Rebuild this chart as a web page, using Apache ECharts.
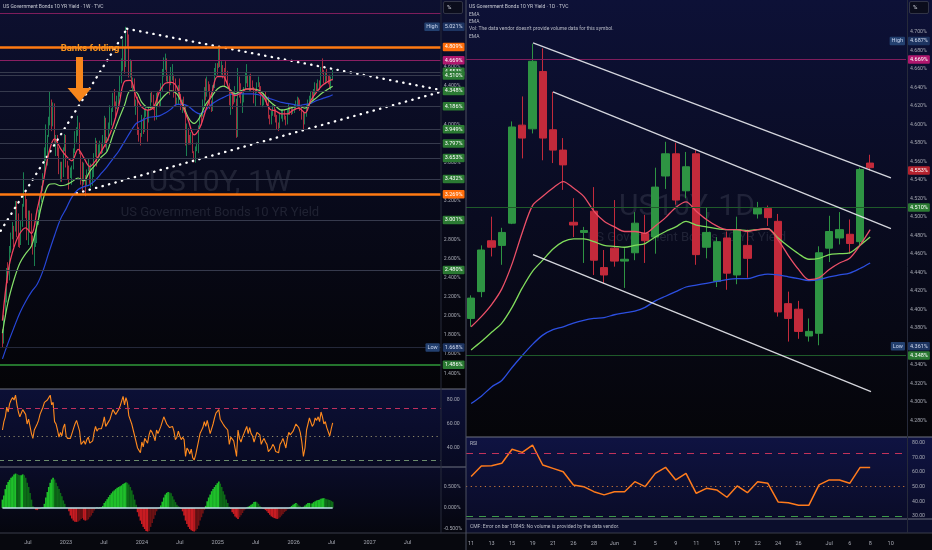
<!DOCTYPE html>
<html>
<head>
<meta charset="utf-8">
<script src="https://cdn.jsdelivr.net/npm/echarts@6/dist/echarts.min.js"></script>
<style>
html,body{margin:0;padding:0;background:#06070d;overflow:hidden;}
#chart{width:932px;height:550px;}
</style>
</head>
<body>
<div id="chart"></div>
<script>
// ================= LEFT PANEL : weekly US10Y =================
const weeklyStartDate = '2022-02-28';
const weeklyFirstOpen = 1.83;
const weeklyClose = [
1.73,2.00,2.15,2.48,2.38,2.71,2.83,2.90,2.89,3.13,
2.92,2.78,2.74,2.94,3.16,3.23,3.13,2.88,3.08,2.93,
2.75,2.65,2.83,2.85,2.98,3.04,3.19,3.32,3.45,3.69,
3.80,3.88,4.00,4.21,4.01,4.16,3.82,3.83,3.68,3.49,
3.58,3.48,3.75,3.87,
3.56,3.50,3.48,3.51,3.53,3.74,3.82,3.94,3.96,3.70,
3.39,3.38,3.47,3.39,3.52,3.57,3.42,3.44,3.46,3.67,
3.80,3.69,3.74,3.76,3.74,3.84,4.06,3.83,3.84,3.95,
4.04,4.15,4.25,4.24,4.18,4.26,4.33,4.43,4.57,4.78,
4.62,4.91,4.83,4.57,4.65,4.44,4.47,4.20,4.23,3.91,
3.90,3.88,
4.05,3.94,4.13,4.14,4.02,4.18,4.28,4.25,4.19,4.08,
4.31,4.22,4.20,4.39,4.50,4.62,4.67,4.50,4.50,4.42,
4.47,4.50,4.43,4.22,4.26,4.40,4.27,4.18,4.24,4.19,
3.79,3.94,3.89,3.80,3.91,3.71,3.65,3.73,3.75,3.98,
4.10,4.08,4.24,4.37,4.30,4.43,4.41,4.18,4.15,4.40,
4.52,4.62,4.60,
4.77,4.61,4.62,4.54,4.49,4.48,4.43,4.21,4.32,4.31,
4.25,4.25,4.00,4.49,4.33,4.24,4.31,4.38,4.44,4.51,
4.40,4.51,4.41,4.38,4.28,4.35,4.42,4.42,4.39,4.22,
4.28,4.32,4.26,4.23,4.08,4.06,4.13,4.18,4.12,4.03,
4.01,4.00,4.09,4.10,4.14,4.07,4.02,4.14,4.18,4.15,
4.13,4.17,
4.18,4.23,4.24,4.22,4.18,4.12,4.02,4.10,4.18,4.24,
4.26,4.31,4.28,4.34,4.40,4.36,4.44,4.39,4.60,4.56,
4.44,4.53,4.48,4.46,4.38,4.49,4.55
];
const weeklyHigh = [
1.86,2.01,2.25,2.50,2.56,2.73,2.87,2.98,2.94,3.20,
3.20,3.07,2.86,2.99,3.17,3.50,3.30,3.22,3.10,3.10,
3.07,2.84,2.87,2.90,3.00,3.11,3.26,3.36,3.49,3.76,
4.00,3.89,4.08,4.34,4.26,4.23,4.22,3.89,3.89,3.76,
3.61,3.61,3.76,3.90,
3.89,3.62,3.57,3.55,3.57,3.75,3.93,3.97,4.09,4.02,
3.71,3.61,3.60,3.47,3.53,3.64,3.57,3.59,3.53,3.70,
3.86,3.83,3.79,3.83,3.81,3.89,4.09,4.07,3.87,4.02,
4.20,4.17,4.33,4.37,4.24,4.30,4.35,4.51,4.69,4.89,
4.80,5.02,5.00,4.94,4.68,4.67,4.49,4.48,4.26,4.29,
3.97,3.91,
4.10,4.07,4.17,4.20,4.15,4.19,4.33,4.35,4.31,4.21,
4.33,4.35,4.26,4.43,4.58,4.70,4.74,4.69,4.52,4.52,
4.60,4.63,4.52,4.48,4.28,4.41,4.48,4.32,4.26,4.29,
4.20,4.01,3.96,3.89,3.92,3.92,3.72,3.77,3.81,3.99,
4.11,4.11,4.26,4.39,4.48,4.50,4.45,4.42,4.25,4.41,
4.59,4.64,4.64,
4.79,4.81,4.66,4.62,4.59,4.66,4.56,4.43,4.34,4.33,
4.33,4.40,4.27,4.59,4.50,4.43,4.32,4.39,4.54,4.63,
4.51,4.52,4.53,4.46,4.39,4.37,4.44,4.50,4.44,4.40,
4.29,4.33,4.34,4.29,4.29,4.10,4.14,4.20,4.20,4.16,
4.10,4.02,4.11,4.16,4.16,4.15,4.09,4.15,4.21,4.19,
4.17,4.19,
4.21,4.25,4.29,4.28,4.26,4.20,4.14,4.12,4.20,4.26,
4.30,4.34,4.35,4.37,4.44,4.43,4.47,4.46,4.60,4.69,
4.57,4.55,4.58,4.51,4.52,4.50,4.57
];
const weeklyLow = [
1.67,1.71,1.99,2.14,2.34,2.37,2.66,2.80,2.72,2.88,
2.82,2.72,2.71,2.74,2.93,3.14,3.02,2.79,2.74,2.87,
2.74,2.64,2.52,2.72,2.76,2.95,3.03,3.19,3.30,3.45,
3.62,3.57,3.87,3.99,3.93,3.98,3.81,3.67,3.67,3.48,
3.40,3.40,3.45,3.72,
3.55,3.43,3.32,3.44,3.37,3.53,3.70,3.81,3.88,3.69,
3.37,3.29,3.37,3.25,3.36,3.51,3.38,3.34,3.36,3.45,
3.66,3.56,3.64,3.66,3.69,3.70,3.80,3.76,3.72,3.83,
3.94,3.99,4.13,4.18,4.06,4.16,4.21,4.29,4.43,4.56,
4.53,4.60,4.81,4.49,4.49,4.38,4.36,4.19,4.10,3.89,
3.82,3.78,
3.87,3.90,3.92,4.08,3.82,4.02,4.15,4.23,4.15,4.04,
4.05,4.19,4.18,4.19,4.35,4.50,4.57,4.45,4.43,4.31,
4.41,4.46,4.28,4.19,4.20,4.21,4.26,4.15,4.12,4.16,
3.78,3.67,3.79,3.79,3.79,3.70,3.60,3.60,3.72,3.70,
3.96,3.99,4.08,4.18,4.25,4.29,4.34,4.16,4.13,4.14,
4.38,4.51,4.52,
4.59,4.60,4.52,4.48,4.40,4.45,4.42,4.20,4.10,4.16,
4.21,4.23,3.86,3.87,4.28,4.22,4.12,4.23,4.36,4.43,
4.39,4.35,4.35,4.37,4.22,4.19,4.33,4.39,4.33,4.20,
4.18,4.20,4.24,4.20,4.06,4.00,4.00,4.09,4.08,4.02,
3.95,3.93,3.96,4.06,4.03,4.05,3.99,4.00,4.10,4.10,
4.10,4.11,
4.12,4.15,4.18,4.16,4.14,4.05,3.95,4.00,4.08,4.14,
4.20,4.22,4.25,4.26,4.31,4.33,4.34,4.36,4.38,4.53,
4.43,4.42,4.45,4.42,4.37,4.36,4.46
];
const weeklyRsi = [
55,62,66,74,70,77,80,82,80,84,
76,70,66,69,72,73,68,60,64,58,
52,48,55,56,60,63,68,71,74,78,
79,80,82,84,76,78,62,60,55,49,
53,50,57,60,50,48,47,48,49,56,
60,63,62,54,43,42,46,43,47,49,
44,45,46,53,58,54,56,57,56,60,
66,58,58,62,64,68,72,71,68,70,
72,75,79,83,76,82,78,67,68,60,
60,50,50,40,38,36,45,41,48,48,
44,51,55,53,50,46,55,52,52,58,
62,66,67,60,60,57,58,58,54,47,
49,54,50,47,49,47,33,40,38,35,
39,32,30,34,35,46,52,51,57,62,
58,63,62,52,51,60,65,69,68,72,
64,64,60,58,57,55,43,49,49,46,
46,33,55,48,45,49,52,55,58,52,
57,52,50,45,49,53,53,51,43,46,
48,45,43,37,36,40,43,41,37,36,
36,43,45,48,44,40,48,53,51,50,
54,55,60,60,57,53,45,33,40,55,
60,65,64,58,60,65,63,66,62,70,
66,60,62,57,56,50,56,61
];
const weeklyHist = [
0.20,0.30,0.45,0.55,0.62,0.67,0.72,0.75,0.80,0.82,
0.81,0.79,0.78,0.78,0.80,0.78,0.72,0.60,0.50,0.36,
0.20,0.04,0.01,-0.04,-0.05,-0.03,-0.02,0.01,0.02,0.10,
0.25,0.38,0.50,0.60,0.68,0.72,0.68,0.60,0.52,0.45,
0.36,0.28,0.18,0.10,0.02,0.01,-0.08,-0.18,-0.25,-0.30,
-0.33,-0.33,-0.32,-0.30,-0.26,-0.24,-0.28,-0.30,-0.29,-0.27,
-0.22,-0.18,-0.12,-0.06,-0.02,0.01,-0.01,0.01,0.02,0.05,
0.12,0.16,0.21,0.26,0.31,0.35,0.39,0.42,0.45,0.48,
0.50,0.52,0.54,0.57,0.59,0.61,0.60,0.56,0.50,0.42,
0.32,0.20,0.08,-0.10,-0.20,-0.30,-0.38,-0.45,-0.50,-0.55,
-0.56,-0.55,-0.45,-0.36,-0.26,-0.17,-0.08,-0.03,0.01,0.06,
0.15,0.25,0.32,0.36,0.38,0.37,0.35,0.28,0.20,0.14,
0.08,0.04,0.02,-0.02,-0.08,-0.18,-0.30,-0.38,-0.45,-0.50,
-0.53,-0.55,-0.56,-0.54,-0.50,-0.42,-0.30,-0.22,-0.13,-0.05,
0.05,0.16,0.25,0.32,0.40,0.45,0.50,0.55,0.59,0.63,
0.58,0.50,0.40,0.32,0.20,0.12,0.03,-0.02,-0.10,-0.14,
-0.20,-0.23,-0.26,-0.22,-0.17,-0.12,-0.06,-0.03,0.01,0.03,
0.05,0.08,0.10,0.14,0.15,0.13,0.10,0.05,0.02,-0.01,
-0.02,-0.05,-0.08,-0.12,-0.16,-0.20,-0.22,-0.24,-0.25,-0.26,
-0.25,-0.22,-0.18,-0.14,-0.10,-0.07,-0.03,-0.01,0.02,0.05,
0.08,0.10,0.12,0.10,0.06,0.04,0.02,0.03,0.06,0.09,
0.12,0.12,0.10,0.11,0.14,0.16,0.18,0.19,0.20,0.22,
0.23,0.23,0.22,0.21,0.20,0.19,0.17,0.15
];
// EMA values read every 4th week (last value = last week)
const weeklyEmaStep = 4;
const weeklyEmaFast = [1.95,2.47,2.72,2.86,2.92,2.86,3.11,3.38,3.70,3.85,3.75,3.67,3.62,3.74,3.65,3.56,3.62,3.72,3.83,3.98,4.19,4.45,4.46,4.29,4.18,4.15,4.18,4.34,4.43,4.44,4.39,4.19,4.04,3.89,3.97,4.15,4.32,4.50,4.50,4.37,4.30,4.33,4.37,4.37,4.34,4.28,4.16,4.14,4.11,4.11,4.15,4.17,4.12,4.25,4.34,4.41,4.45,4.47];
const weeklyEmaMid  = [1.82,2.15,2.38,2.55,2.65,2.73,2.95,3.21,3.37,3.38,3.36,3.37,3.40,3.44,3.41,3.51,3.58,3.66,3.72,3.89,4.05,4.20,4.35,4.34,4.23,4.18,4.18,4.24,4.31,4.35,4.32,4.21,4.07,4.01,4.08,4.21,4.29,4.37,4.40,4.37,4.32,4.35,4.37,4.37,4.36,4.31,4.24,4.19,4.15,4.16,4.18,4.19,4.17,4.23,4.28,4.33,4.37,4.40];
const weeklyEmaSlow = [1.55,1.72,1.88,2.03,2.15,2.25,2.33,2.47,2.66,2.84,3.01,3.12,3.24,3.32,3.35,3.37,3.42,3.49,3.56,3.64,3.72,3.82,3.92,4.01,4.04,4.07,4.08,4.09,4.12,4.16,4.21,4.21,4.19,4.14,4.11,4.15,4.21,4.25,4.28,4.31,4.32,4.32,4.32,4.32,4.31,4.29,4.27,4.25,4.23,4.22,4.21,4.20,4.21,4.22,4.25,4.27,4.29,4.31];
const weeklyTimeLabels = ['2022','Jul','2023','Jul','2024','Jul','2025','Jul','2026','Jul','2027','Jul'];
const weeklyPriceTickLabels = ['4.600','4.400','4.000','3.600','3.200','2.800','2.600','2.400','2.200','2.000','1.800','1.600','1.400'];
const weeklyRsiTickLabels = ['40.00','60.00','80.00'];
const weeklyHistTickLabels = ['-0.500','0.000','0.500'];
const weeklyHighValue = 5.021, weeklyLowValue = 1.668;
const weeklyOrangeLevels = [4.809, 3.269];
const weeklyMagentaTagLevels = [4.669];
const weeklyMagentaLineLevels = [5.164];
const weeklyGreenTagLevels = [4.553, 4.510, 4.348, 4.186, 3.949, 3.797, 3.653, 3.432, 3.001, 2.480];
const weeklyGreenLineLevels = [1.486];
// trend lines: [months since Jan 2022, yield]
const weeklyTrendRise = [[0, 2.71], [21.65, 5.00]];
const weeklyTrendFall = [[21.65, 5.00], [71.24, 4.36]];
const weeklyTrendSupport = [[13.69, 3.28], [71.24, 4.34]];

// ================= RIGHT PANEL : daily US10Y =================
const dailyDates = ['2026-05-11','2026-05-12','2026-05-13','2026-05-14','2026-05-15','2026-05-18','2026-05-19','2026-05-20','2026-05-21','2026-05-22','2026-05-26','2026-05-27','2026-05-28','2026-05-29','2026-06-01','2026-06-02','2026-06-03','2026-06-04','2026-06-05','2026-06-08','2026-06-09','2026-06-10','2026-06-11','2026-06-12','2026-06-15','2026-06-16','2026-06-17','2026-06-18','2026-06-22','2026-06-23','2026-06-24','2026-06-25','2026-06-26','2026-06-29','2026-06-30','2026-07-01','2026-07-02','2026-07-06','2026-07-07','2026-07-08','2026-07-09','2026-07-10','2026-07-13'];
const dailyAxisLabels = ['11','','13','','15','','19','','21','','26','','28','','Jun','','3','','5','','9','','11','','15','','17','','22','','24','','26','','','Jul','','6','','8','','10',''];
const dailyOpen  = [4.390,4.419,4.474,4.469,4.493,4.599,4.595,4.657,4.594,4.572,4.494,4.483,4.506,4.445,4.466,4.452,4.461,4.482,4.478,4.544,4.568,4.528,4.568,4.467,4.430,4.477,4.437,4.469,4.503,4.509,4.495,4.406,4.400,4.371,4.374,4.466,4.477,4.481,4.473,4.558];
const dailyClose = [4.412,4.464,4.467,4.483,4.597,4.585,4.668,4.585,4.572,4.556,4.491,4.485,4.453,4.437,4.452,4.454,4.493,4.474,4.532,4.568,4.518,4.554,4.459,4.483,4.473,4.439,4.486,4.455,4.509,4.499,4.397,4.390,4.376,4.376,4.461,4.484,4.486,4.471,4.551,4.553];
const dailyLow   = [4.381,4.413,4.457,4.448,4.492,4.563,4.590,4.561,4.558,4.529,4.478,4.450,4.437,4.428,4.446,4.423,4.453,4.450,4.460,4.530,4.513,4.520,4.448,4.455,4.424,4.421,4.427,4.434,4.498,4.490,4.392,4.365,4.368,4.365,4.361,4.451,4.470,4.460,4.469,4.550];
const dailyHigh  = [4.415,4.469,4.500,4.488,4.603,4.630,4.687,4.682,4.635,4.585,4.520,4.489,4.532,4.464,4.518,4.466,4.505,4.502,4.553,4.581,4.580,4.570,4.572,4.510,4.478,4.484,4.500,4.486,4.516,4.512,4.503,4.419,4.409,4.390,4.468,4.501,4.505,4.497,4.553,4.567];
const dailyEmaFast = [4.381,4.392,4.405,4.422,4.449,4.483,4.512,4.522,4.531,4.538,4.531,4.522,4.506,4.495,4.489,4.484,4.484,4.482,4.490,4.499,4.510,4.516,4.506,4.497,4.490,4.486,4.486,4.484,4.486,4.487,4.475,4.458,4.443,4.432,4.434,4.443,4.450,4.455,4.469,4.486];
const dailyEmaMid  = [4.356,4.365,4.375,4.385,4.402,4.423,4.441,4.453,4.465,4.473,4.476,4.476,4.473,4.469,4.468,4.467,4.469,4.471,4.478,4.484,4.489,4.495,4.491,4.489,4.487,4.486,4.486,4.485,4.486,4.487,4.477,4.468,4.460,4.454,4.455,4.459,4.460,4.461,4.469,4.478];
const dailyEmaSlow = [4.298,4.306,4.316,4.323,4.337,4.350,4.362,4.372,4.378,4.381,4.385,4.388,4.390,4.391,4.394,4.396,4.398,4.402,4.409,4.414,4.419,4.424,4.426,4.428,4.430,4.432,4.433,4.433,4.436,4.438,4.437,4.435,4.433,4.431,4.432,4.435,4.437,4.439,4.444,4.450];
const dailyRsi = [57,64.1,64.3,66.0,75.5,73.4,78.4,64.8,62.5,60.2,51.2,50.0,46.6,44.4,46.6,46.6,53.4,50.0,59.1,63.2,54.6,59.1,45.5,48.9,47.8,42.8,50.5,45.9,53.4,52.3,39.6,39.1,37.3,37.3,51.2,54.6,54.6,52.3,63.0,63.0];
const dailyPriceTickLabels = ['4.700','4.680','4.660','4.640','4.620','4.600','4.580','4.560','4.540','4.520','4.500','4.480','4.460','4.440','4.420','4.400','4.380','4.340','4.320','4.300','4.280'];
const dailyRsiTickLabels = ['30.00','40.00','50.00','60.00','70.00','80.00'];
const dailyHighValue = 4.687, dailyLowValue = 4.361, dailyLastValue = 4.553;
const dailyMagentaLevels = [4.669];
const dailyGreenLevels = [4.510, 4.348];
// channel lines: [trading-day index, yield]
const dailyChannelTop = [[6.05, 4.688], [41.03, 4.542]];
const dailyChannelMid = [[8.0, 4.635], [41.03, 4.487]];
const dailyChannelBottom = [[6.05, 4.459], [39.08, 4.311]];
const rsiBands = [73, 50, 30];

// ================= helpers =================
const FONT = 'Roboto, "Noto Sans", "DejaVu Sans", sans-serif';
const AXIS_TEXT = '#a6a9b3';
function dayMs(s){ const p = s.split('-').map(Number); return Date.UTC(p[0], p[1]-1, p[2]); }
function monthCoord(t){
  const d = new Date(t); const y = d.getUTCFullYear(), mo = d.getUTCMonth(), day = d.getUTCDate();
  const dim = new Date(Date.UTC(y, mo+1, 0)).getUTCDate();
  return (y-2022)*12 + mo + (day-1)/dim;
}
const t0 = dayMs(weeklyStartDate);
const weeklyM = weeklyClose.map((_, i) => monthCoord(t0 + i*7*86400000));
const weeklyCandles = weeklyClose.map((c, i) => [weeklyM[i], i === 0 ? weeklyFirstOpen : weeklyClose[i-1], c, weeklyLow[i], weeklyHigh[i]]);
const emaIdx = weeklyEmaFast.map((_, k) => Math.min(k*weeklyEmaStep, weeklyClose.length-1));
const emaPts = arr => arr.map((v, k) => [weeklyM[emaIdx[k]], v]);
const histData = weeklyHist.map((v, i) => {
  const prev = i ? weeklyHist[i-1] : v;
  let c;
  if (v >= 0) c = v >= prev ? '#1fc02a' : '#0d6a17';
  else c = v <= prev ? '#c81c22' : '#6e1214';
  return { value: [weeklyM[i], v], itemStyle: { color: c } };
});

const NOLINE = { color: 'rgba(0,0,0,0)', width: 0.5, type: 'solid' };
function tag(value, text, bg, line, fg){
  return { yAxis: value, lineStyle: line || NOLINE,
    label: { show: true, position: 'end', distance: 2, formatter: text, backgroundColor: bg, color: fg || '#ffffff',
      fontSize: 5.5, fontFamily: FONT, padding: [1.5, 2, 1, 2], borderRadius: 1 } };
}
function insideTag(value, text, bg){
  return { yAxis: value, lineStyle: NOLINE,
    label: { show: true, position: 'insideEnd', distance: 1, formatter: text, backgroundColor: bg, color: '#c9d4ee',
      fontSize: 5.5, fontFamily: FONT, padding: [1.5, 2, 1, 2], borderRadius: 1 } };
}
function plainLine(value, line){ return { yAxis: value, lineStyle: line, label: { show: false } }; }
const GRAYLINE = { color: '#363a4d', width: 1, type: 'solid' };
const pct = v => v.toFixed(3) + '%';

// left marklines
const leftMarks = [];
weeklyGreenTagLevels.forEach(v => leftMarks.push(tag(v, pct(v), '#2b7a33', GRAYLINE)));
weeklyGreenLineLevels.forEach(v => leftMarks.push(tag(v, pct(v), '#2b7a33', { color: '#2f9a3a', width: 1.6, type: 'solid' })));
leftMarks.push(tag(weeklyLowValue, pct(weeklyLowValue), '#1d3461', { color: '#24283a', width: 1, type: 'solid' }, '#d4dcf0'));
leftMarks.push(insideTag(weeklyLowValue, 'Low', '#23406f'));
weeklyMagentaLineLevels.forEach(v => leftMarks.push(plainLine(v, { color: '#7e1d5c', width: 1, type: 'solid' })));
weeklyMagentaTagLevels.forEach(v => leftMarks.push(tag(v, pct(v), '#b0176e', { color: '#8a1f62', width: 1, type: 'solid' })));
leftMarks.push(tag(weeklyHighValue, pct(weeklyHighValue), '#1d3461', null, '#d4dcf0'));
leftMarks.push(insideTag(weeklyHighValue, 'High', '#23406f'));
weeklyOrangeLevels.forEach(v => leftMarks.push(tag(v, pct(v), '#ff6d0a', { color: '#ff7a12', width: 2.5, type: 'solid' })));

// right marklines
const rightMarks = [];
dailyGreenLevels.forEach(v => rightMarks.push(tag(v, pct(v), '#2b7a33', { color: '#1f5a2a', width: 1, type: 'solid' })));
dailyMagentaLevels.forEach(v => rightMarks.push(tag(v, pct(v), '#b0176e', { color: '#7e1d5c', width: 1, type: 'solid' })));
rightMarks.push(tag(dailyLastValue, pct(dailyLastValue), '#b5222e', null));
rightMarks.push(tag(dailyHighValue, pct(dailyHighValue), '#1d3461', null, '#d4dcf0'));
rightMarks.push(insideTag(dailyHighValue, 'High', '#23406f'));
rightMarks.push(tag(dailyLowValue, pct(dailyLowValue), '#1d3461', null, '#d4dcf0'));
rightMarks.push(insideTag(dailyLowValue, 'Low', '#23406f'));

function bandMarks(colors, dash){
  return { symbol: 'none', silent: true, animation: false, label: { show: false },
    data: rsiBands.map((v, i) => ({ yAxis: v, lineStyle: { color: colors[i], width: 1, type: i === 1 ? [1.2, 3.5] : dash } })) };
}

const grad = (a, b) => new echarts.graphic.LinearGradient(0, 0, 0, 1, [{ offset: 0, color: a }, { offset: 1, color: b }]);
const hidden = { show: false };
const noAxisDeco = { axisLine: hidden, axisTick: hidden, splitLine: hidden };
const LX = -9.98, LW = 450.7, MMAX = 71.24;

function rect(x, y, w, h, fill){ return { type: 'rect', z: -20, silent: true, shape: { x, y, width: w, height: h }, style: { fill } }; }
function hline(x1, x2, y, color){ return { type: 'line', z: 50, silent: true, shape: { x1, y1: y, x2, y2: y }, style: { stroke: color, lineWidth: 1 } }; }
function vline(x, y1, y2, color){ return { type: 'line', z: 50, silent: true, shape: { x1: x, y1, x2: x, y2 }, style: { stroke: color, lineWidth: 1 } }; }
function txt(x, y, text, font, fill, align, z){ return { type: 'text', z: z == null ? 60 : z, silent: true,
  style: { x, y, text, font, fill, align: align || 'left', verticalAlign: 'middle', textAlign: align || 'left', textVerticalAlign: 'middle' } }; }

const option = {
  animation: false,
  backgroundColor: '#06070d',
  textStyle: { fontFamily: FONT },
  grid: [
    { left: LX, top: -9.56, width: LW, height: 401.94, containLabel: false, outerBoundsMode: 'none' },
    { left: LX, top: 388, width: LW, height: 84, containLabel: false, outerBoundsMode: 'none' },
    { left: LX, top: 466, width: LW, height: 84, containLabel: false, outerBoundsMode: 'none' },
    { left: LX, top: 520, width: LW, height: 13, containLabel: false, outerBoundsMode: 'none' },
    { left: 466, top: -5.3, width: 440, height: 444, containLabel: false, outerBoundsMode: 'none' },
    { left: 466, top: 428, width: 440, height: 102.7, containLabel: false, outerBoundsMode: 'none' }
  ],
  xAxis: [
    { type: 'value', gridIndex: 0, min: 0, max: MMAX, show: false },
    { type: 'value', gridIndex: 1, min: 0, max: MMAX, show: false },
    { type: 'value', gridIndex: 2, min: 0, max: MMAX, show: false },
    { type: 'value', gridIndex: 3, min: 0, max: MMAX, interval: 6, ...noAxisDeco,
      axisLabel: { color: AXIS_TEXT, fontSize: 5.5, margin: 7, hideOverlap: false, showMinLabel: true, showMaxLabel: true,
        formatter: v => { const r = Math.round(v); if (Math.abs(v - r) > 1e-6 || r % 6) return ''; return weeklyTimeLabels[r/6] || ''; } } },
    { type: 'category', gridIndex: 4, data: dailyDates, boundaryGap: true, show: false },
    { type: 'category', gridIndex: 5, data: dailyDates, boundaryGap: true, ...noAxisDeco,
      axisLabel: { color: AXIS_TEXT, fontSize: 5.5, margin: 10, interval: 0, hideOverlap: false, formatter: (v, i) => dailyAxisLabels[i] || '' } },
    { type: 'value', gridIndex: 4, min: -0.5, max: dailyDates.length - 0.5, show: false }
  ],
  yAxis: [
    { type: 'value', gridIndex: 0, position: 'right', min: 1.2, max: 5.4, interval: 0.2, ...noAxisDeco,
      axisLabel: { color: AXIS_TEXT, fontSize: 5.2, margin: 3, hideOverlap: false, showMinLabel: true, showMaxLabel: true,
        formatter: v => weeklyPriceTickLabels.includes(v.toFixed(3)) ? v.toFixed(3) + '%' : '' } },
    { type: 'value', gridIndex: 1, position: 'right', min: 20, max: 90, interval: 10, ...noAxisDeco,
      axisLabel: { color: AXIS_TEXT, fontSize: 5.2, margin: 6, hideOverlap: false,
        formatter: v => weeklyRsiTickLabels.includes(v.toFixed(2)) ? v.toFixed(2) : '' } },
    { type: 'value', gridIndex: 2, position: 'right', min: -1, max: 1, interval: 0.5, ...noAxisDeco,
      axisLabel: { color: AXIS_TEXT, fontSize: 5.2, margin: 3, hideOverlap: false,
        formatter: v => weeklyHistTickLabels.includes(v.toFixed(3)) ? v.toFixed(3) + '%' : '' } },
    { type: 'value', gridIndex: 3, show: false },
    { type: 'value', gridIndex: 4, position: 'right', min: 4.26, max: 4.74, interval: 0.02, ...noAxisDeco,
      axisLabel: { color: AXIS_TEXT, fontSize: 5.2, margin: 4, hideOverlap: false, showMinLabel: true, showMaxLabel: true,
        formatter: v => dailyPriceTickLabels.includes(v.toFixed(3)) ? v.toFixed(3) + '%' : '' } },
    { type: 'value', gridIndex: 5, position: 'right', min: 20, max: 90, interval: 10, ...noAxisDeco,
      axisLabel: { color: AXIS_TEXT, fontSize: 5.2, margin: 6, hideOverlap: false,
        formatter: v => dailyRsiTickLabels.includes(v.toFixed(2)) ? v.toFixed(2) : '' } }
  ],
  series: [
    // ---------- left weekly ----------
    { type: 'line', xAxisIndex: 0, yAxisIndex: 0, data: weeklyTrendRise, symbol: 'none', silent: true, z: 3,
      lineStyle: { color: '#ffffff', width: 2.3, type: [0.4, 6.3], cap: 'round' } },
    { type: 'line', xAxisIndex: 0, yAxisIndex: 0, data: weeklyTrendFall, symbol: 'none', silent: true, z: 3,
      lineStyle: { color: '#ffffff', width: 2.3, type: [0.4, 6.3], cap: 'round' } },
    { type: 'line', xAxisIndex: 0, yAxisIndex: 0, data: weeklyTrendSupport, symbol: 'none', silent: true, z: 3,
      lineStyle: { color: '#ffffff', width: 2.3, type: [0.4, 6.3], cap: 'round' } },
    { type: 'candlestick', xAxisIndex: 0, yAxisIndex: 0, data: weeklyCandles,
      dimensions: ['m', 'open', 'close', 'low', 'high'], encode: { x: 'm', y: ['open', 'close', 'low', 'high'] },
      barWidth: 1.1, silent: true, z: 2,
      itemStyle: { color: '#1f9d5e', color0: '#d03545', borderColor: '#1f9d5e', borderColor0: '#d03545', borderWidth: 0.8 },
      markLine: { symbol: 'none', silent: true, animation: false, data: leftMarks } },
    { type: 'line', xAxisIndex: 0, yAxisIndex: 0, data: emaPts(weeklyEmaSlow), symbol: 'none', smooth: 0.35, silent: true, z: 4,
      lineStyle: { color: '#2747d8', width: 1.2 } },
    { type: 'line', xAxisIndex: 0, yAxisIndex: 0, data: emaPts(weeklyEmaMid), symbol: 'none', smooth: 0.35, silent: true, z: 4,
      lineStyle: { color: '#86e06a', width: 1.2 } },
    { type: 'line', xAxisIndex: 0, yAxisIndex: 0, data: emaPts(weeklyEmaFast), symbol: 'none', smooth: 0.35, silent: true, z: 4,
      lineStyle: { color: '#f4435f', width: 1.3 } },
    { type: 'line', xAxisIndex: 1, yAxisIndex: 1, data: weeklyM.map((m, i) => [m, weeklyRsi[i]]), symbol: 'none', silent: true,
      lineStyle: { color: '#ff8a1e', width: 1.1 }, markLine: bandMarks(['#c0305e', '#8f8a6a', '#6c8c6c'], [5, 4]) },
    { type: 'bar', xAxisIndex: 2, yAxisIndex: 2, data: histData, barWidth: 1.7, silent: true },
    { type: 'line', xAxisIndex: 2, yAxisIndex: 2, data: [[weeklyM[0], 0], [weeklyM[weeklyM.length-1], 0]], symbol: 'none', silent: true, z: 4,
      lineStyle: { color: '#bfe3ea', width: 1.3 } },
    // ---------- right daily ----------
    { type: 'line', xAxisIndex: 6, yAxisIndex: 4, data: dailyChannelTop, symbol: 'none', silent: true, z: 5,
      lineStyle: { color: 'rgba(235,236,242,0.9)', width: 1.3 } },
    { type: 'line', xAxisIndex: 6, yAxisIndex: 4, data: dailyChannelMid, symbol: 'none', silent: true, z: 5,
      lineStyle: { color: 'rgba(235,236,242,0.9)', width: 1.3 } },
    { type: 'line', xAxisIndex: 6, yAxisIndex: 4, data: dailyChannelBottom, symbol: 'none', silent: true, z: 5,
      lineStyle: { color: 'rgba(235,236,242,0.9)', width: 1.3 } },
    { type: 'candlestick', xAxisIndex: 4, yAxisIndex: 4, data: dailyOpen.map((o, i) => [o, dailyClose[i], dailyLow[i], dailyHigh[i]]),
      barWidth: '76%', silent: true, z: 2,
      itemStyle: { color: '#2e9443', color0: '#c32a3b', borderColor: '#2e9443', borderColor0: '#c32a3b', borderWidth: 1 },
      markLine: { symbol: 'none', silent: true, animation: false, data: rightMarks } },
    { type: 'line', xAxisIndex: 4, yAxisIndex: 4, data: dailyEmaSlow, symbol: 'none', smooth: 0.3, silent: true, z: 4,
      lineStyle: { color: '#2c4fe0', width: 1.3 } },
    { type: 'line', xAxisIndex: 4, yAxisIndex: 4, data: dailyEmaMid, symbol: 'none', smooth: 0.3, silent: true, z: 4,
      lineStyle: { color: '#80dc5c', width: 1.3 } },
    { type: 'line', xAxisIndex: 4, yAxisIndex: 4, data: dailyEmaFast, symbol: 'none', smooth: 0.3, silent: true, z: 4,
      lineStyle: { color: '#ec5068', width: 1.3 } },
    { type: 'line', xAxisIndex: 5, yAxisIndex: 5, data: dailyRsi, symbol: 'none', silent: true,
      lineStyle: { color: '#ff7b1c', width: 1.5 }, markLine: bandMarks(['#c2335a', '#c8783a', '#3f9a4a'], [7, 6]) }
  ],
  graphic: { elements: [
    // pane backgrounds
    rect(0, 0, 466, 389, grad('#0d1030', '#040407')),
    rect(0, 389, 466, 78, grad('#0c1036', '#080a22')),
    rect(0, 467, 466, 66, grad('#0a0c28', '#05060e')),
    rect(466, 0, 466, 437, grad('#0d1137', '#050509')),
    rect(466, 437, 466, 82, grad('#0f1342', '#0a0c28')),
    rect(466, 519, 466, 14, '#0b0e2c'),
    rect(0, 533, 932, 17, '#07080e'),
    // separators
    hline(0, 466, 389, '#6f7280'), hline(0, 466, 467, '#6f7280'), hline(0, 932, 533, '#3a3d4a'),
    hline(466, 932, 437, '#6f7280'), hline(466, 932, 519, '#6f7280'),
    vline(466, 0, 550, '#4d5060'), vline(441, 0, 533, '#262a3a'), vline(907.5, 0, 533, '#262a3a'),
    // watermarks
    txt(220, 183, 'US10Y, 1W', '30px ' + FONT, 'rgba(150,155,172,0.17)', 'center', 1),
    txt(220, 213, 'US Government Bonds 10 YR Yield', '13px ' + FONT, 'rgba(150,155,172,0.17)', 'center', 1),
    txt(687, 207, 'US10Y, 1D', '30px ' + FONT, 'rgba(150,155,172,0.17)', 'center', 1),
    txt(687, 238, 'US Government Bonds 10 YR Yield', '13px ' + FONT, 'rgba(150,155,172,0.17)', 'center', 1),
    // headers
    txt(3, 7, 'US Government Bonds 10 YR Yield · 1W · TVC', '5px ' + FONT, '#c8cbd5'),
    txt(469, 7, 'US Government Bonds 10 YR Yield · 1D · TVC', '5px ' + FONT, '#c8cbd5'),
    txt(469, 14.4, 'EMA', '5px ' + FONT, '#b8bbc6'),
    txt(469, 21.8, 'EMA', '5px ' + FONT, '#b8bbc6'),
    txt(469, 29.2, "Vol: The data vendor doesn't provide volume data for this symbol.", '5px ' + FONT, '#b8bbc6'),
    txt(469, 36.6, 'EMA', '5px ' + FONT, '#b8bbc6'),
    txt(470, 444, 'RSI', '5px ' + FONT, '#b8bbc6'),
    txt(470, 526.5, 'CMF: Error on bar 10845: No volume is provided by the data vendor.', '5px ' + FONT, '#b8bbc6'),
    // unit buttons
    { type: 'rect', z: 60, silent: true, shape: { x: 443.5, y: 1.5, width: 19, height: 12, r: 1.5 }, style: { fill: '#0b0d1c', stroke: '#3b3f4f', lineWidth: 0.8 } },
    txt(447, 7.5, '%', '6px ' + FONT, '#d0d3dc'),
    { type: 'rect', z: 60, silent: true, shape: { x: 909.5, y: 1.5, width: 19, height: 12, r: 1.5 }, style: { fill: '#0b0d1c', stroke: '#3b3f4f', lineWidth: 0.8 } },
    txt(913, 7.5, '%', '6px ' + FONT, '#d0d3dc'),
    // "Banks folding" annotation
    txt(90, 49, 'Banks folding', 'bold 9.5px ' + FONT, '#f7931e', 'center', 70),
    { type: 'polygon', z: 70, silent: true,
      shape: { points: [[76, 57], [83, 57], [83, 88], [91.5, 88], [79.5, 102], [67.5, 88], [76, 88]] },
      style: { fill: '#f7861c' } }
  ] }
};

const chart = echarts.init(document.getElementById('chart'), null, { width: 932, height: 550 });
chart.setOption(option);
</script>
</body>
</html>
